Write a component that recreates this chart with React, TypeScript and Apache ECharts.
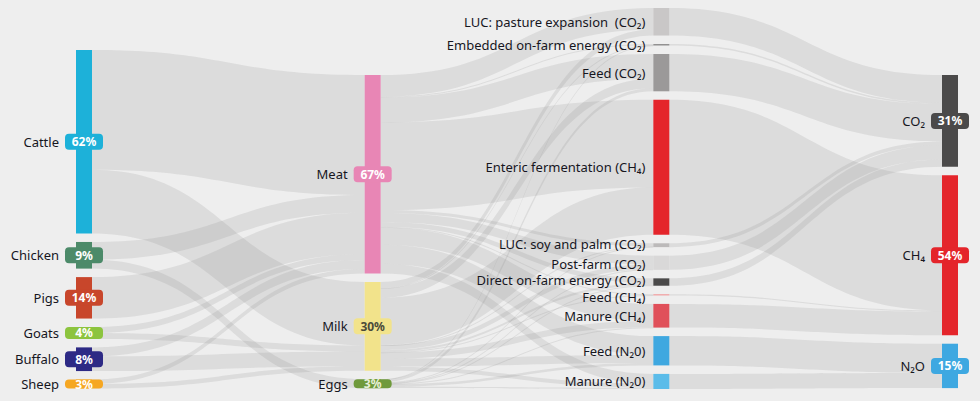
import React, { useEffect, useRef } from 'react';
import * as echarts from 'echarts';

const species = ['Cattle', 'Chicken', 'Pigs', 'Goats', 'Buffalo', 'Sheep'];
const speciesColors = ['#1db1d9', '#4c8a69', '#c8462b', '#8cc43e', '#2d2a85', '#f6a722'];

const products = ['Meat', 'Milk', 'Eggs'];
const productColors = ['#e886b5', '#f2e38b', '#6f9a3b'];
const productTextColors = ['#ffffff', '#4a4a3a', '#e8f0d8'];

const sources = [
  'LUC: pasture expansion  (CO₂)',
  'Embedded on-farm energy (CO₂)',
  'Feed (CO₂)',
  'Enteric fermentation (CH₄)',
  'LUC: soy and palm (CO₂)',
  'Post-farm (CO₂)',
  'Direct on-farm energy (CO₂)',
  'Feed (CH₄)',
  'Manure (CH₄)',
  'Feed (N₂0)',
  'Manure (N₂0)',
];
const sourceColors = ['#c9c7c7', '#8f8e8e', '#9b9999', '#e4252b', '#bcbaba', '#d9d8d8', '#4b4a4a', '#f19a9c', '#e0505a', '#3fa8e0', '#5bbce9'];

const gases = ['CO₂', 'CH₄', 'N₂O'];
const gasColors = ['#4b4a4a', '#e4252b', '#3ea8e1'];

// species -> [Meat, Milk, Eggs]
const speciesToProduct = [
  [40.5, 21.5, 0],
  [6, 0, 3],
  [14, 0, 0],
  [2, 2, 0],
  [3, 5, 0],
  [1.5, 1.5, 0],
];

// source <- [Meat, Milk, Eggs]
const productToSource = [
  [7.3, 2.0, 0],
  [0.3, 0.15, 0.05],
  [8.4, 3.2, 1.0],
  [29.6, 16.0, 0],
  [1.0, 0.1, 0.2],
  [3.0, 1.6, 0.2],
  [1.6, 0.7, 0.2],
  [0.3, 0.1, 0],
  [5.8, 2.1, 0.1],
  [6.4, 2.7, 0.8],
  [3.3, 1.35, 0.45],
];

// gas index of each source
const sourceGas = [0, 0, 0, 1, 0, 0, 0, 1, 1, 2, 2];

// invisible spacer weights that push columns 1, 2 and 4 down (layout only)
const columnSpacers = [11.3, 19.8, 0, 19.8];

const sum = (a: number[]) => a.reduce((s, v) => s + v, 0);

export default function App() {
  const ref = useRef<HTMLDivElement>(null);

  useEffect(() => {
    document.body.style.margin = '0';
    document.body.style.background = '#eeeeee';
    if (!ref.current) return;
    const chart = echarts.init(ref.current, undefined, { renderer: 'svg' });

    const speciesTotals = speciesToProduct.map(sum);
    const productTotals = products.map((_, j) => sum(speciesToProduct.map((r) => r[j])));
    const sourceTotals = productToSource.map(sum);
    const gasTotals = gases.map((_, g) => sum(sourceTotals.filter((_, i) => sourceGas[i] === g)));

    // small vertical label nudges for the crowded source labels
    const labelNudge: Record<number, number> = { 4: -1, 5: 1, 6: -2, 7: 2.5 };

    const rich: Record<string, any> = {
      nm: { fontSize: 13, color: '#16161e', fontFamily: 'Noto Sans', padding: [0, 6, 0, 0] },
    };
    const badgeKey: Record<string, string> = {};
    const badgeText: Record<string, string> = {};
    const addBadge = (name: string, key: string, total: number, bg: string, fg: string) => {
      const h = Math.min(16, Math.max(9, Math.round(total * 2.96)));
      rich[key] = {
        width: 38,
        height: h,
        lineHeight: h,
        align: 'center',
        backgroundColor: bg,
        borderRadius: 4,
        color: fg,
        fontSize: 12,
        fontWeight: 'bold',
        fontFamily: 'Noto Sans',
      };
      badgeKey[name] = key;
      badgeText[name] = Math.round(total) + '%';
    };

    const nodes: any[] = [];
    const spacer = (col: number) => {
      if (columnSpacers[col] > 0)
        nodes.push({
          name: '__spacer' + col,
          value: columnSpacers[col],
          depth: col,
          itemStyle: { color: 'rgba(0,0,0,0)', opacity: 0 },
          label: { show: false },
        });
    };
    spacer(0);
    species.forEach((n, i) => {
      addBadge(n, 's' + i, speciesTotals[i], speciesColors[i], '#ffffff');
      nodes.push({ name: n, depth: 0, itemStyle: { color: speciesColors[i] }, label: { offset: [27, 0] } });
    });
    spacer(1);
    products.forEach((n, i) => {
      addBadge(n, 'p' + i, productTotals[i], productColors[i], productTextColors[i]);
      nodes.push({ name: n, depth: 1, itemStyle: { color: productColors[i] }, label: { offset: [27, 0] } });
    });
    sources.forEach((n, i) => {
      nodes.push({
        name: n,
        depth: 2,
        itemStyle: { color: sourceColors[i] },
        label: { distance: 8, lineHeight: 12, offset: [0, labelNudge[i] || 0] },
      });
    });
    spacer(3);
    gases.forEach((n, i) => {
      addBadge(n, 'g' + i, gasTotals[i], gasColors[i], '#ffffff');
      nodes.push({ name: n, depth: 3, itemStyle: { color: gasColors[i] }, label: { offset: [27, 0] } });
    });

    const links: any[] = [];
    speciesToProduct.forEach((row, i) =>
      row.forEach((v, j) => {
        if (v > 0) links.push({ source: species[i], target: products[j], value: v });
      })
    );
    productToSource.forEach((row, i) =>
      row.forEach((v, j) => {
        if (v > 0) links.push({ source: products[j], target: sources[i], value: v });
      })
    );
    sources.forEach((s, i) => links.push({ source: s, target: gases[sourceGas[i]], value: sourceTotals[i] }));

    chart.setOption({
      animation: false,
      backgroundColor: '#eeeeee',
      tooltip: { show: false },
      series: [
        {
          type: 'sankey',
          left: 76,
          right: 22,
          top: 8,
          bottom: 12,
          nodeWidth: 16,
          nodeGap: 8.5,
          layoutIterations: 0,
          nodeAlign: 'left',
          draggable: false,
          emphasis: { disabled: true },
          data: nodes,
          links,
          lineStyle: { color: '#8c8c8c', opacity: 0.18, curveness: 0.5 },
          label: {
            position: 'left',
            distance: 0,
            fontFamily: 'Noto Sans',
            fontSize: 13,
            color: '#16161e',
            rich,
            formatter: (p: any) => {
              const k = badgeKey[p.name];
              if (k) return '{nm|' + p.name + '}{' + k + '|' + badgeText[p.name] + '}';
              return p.name;
            },
          },
        },
      ],
    });

    return () => chart.dispose();
  }, []);

  return <div ref={ref} style={{ width: 980, height: 401 }} />;
}
